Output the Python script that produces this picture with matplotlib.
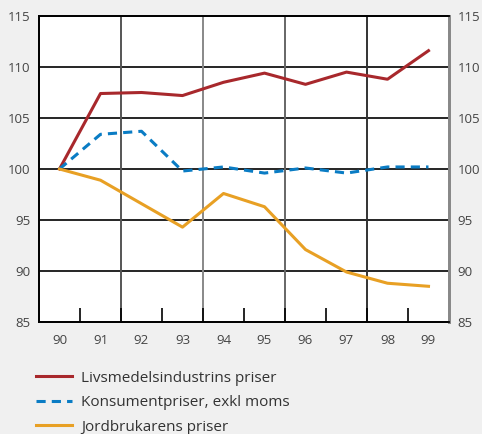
import matplotlib.pyplot as plt
import numpy as np

years = [90, 91, 92, 93, 94, 95, 96, 97, 98, 99]
year_labels = ['90', '91', '92', '93', '94', '95', '96', '97', '98', '99']
livsmedel = [100, 107.4, 107.5, 107.2, 108.5, 109.4, 108.3, 109.5, 108.8, 111.6]
konsument = [100, 103.4, 103.7, 99.8, 100.2, 99.6, 100.1, 99.6, 100.2, 100.2]
jordbruk = [100, 98.9, 96.6, 94.3, 97.6, 96.3, 92.1, 89.9, 88.8, 88.5]

plt.rcParams['font.family'] = ['Open Sans', 'DejaVu Sans']

fig = plt.figure(figsize=(4.82, 4.34), dpi=100, facecolor='#f0f0f0')
ax = fig.add_axes([39 / 482, 1 - 322 / 434, 410 / 482, 306 / 434])
ax.set_facecolor('white')

ax.set_xlim(89.5, 99.5)
ax.set_ylim(85, 115)

# grid
for y in [90, 95, 100, 105, 110]:
    ax.axhline(y, color='black', lw=1.2, zorder=1)
for x, c in zip([91.5, 93.5, 95.5, 97.5], ['#555555', '#888888', '#666666', '#333333']):
    ax.axvline(x, color=c, lw=1.4, zorder=1)

l1, = ax.plot(years, livsmedel, color='#a8282c', lw=2.2, zorder=3)
l2, = ax.plot(years, konsument, color='#0a7cc4', lw=2.2, ls=(0, (3, 2)), zorder=3)
l3, = ax.plot(years, jordbruk, color='#e8a024', lw=2.2, zorder=3)

ax.set_xticks(years)
ax.set_xticklabels(year_labels)
ax.set_xticks(np.arange(90.5, 99.5, 1), minor=True)
ax.tick_params(axis='x', which='major', length=0, pad=9, labelsize=9.5, labelcolor='#444444')
ax.tick_params(axis='x', which='minor', direction='in', length=10, width=1.2, color='black')
ax.set_yticks([85, 90, 95, 100, 105, 110, 115])
ax.tick_params(axis='y', length=0, pad=6, labelsize=9.5, labelcolor='#444444')

ax2 = ax.twinx()
ax2.set_ylim(85, 115)
ax2.set_yticks([85, 90, 95, 100, 105, 110, 115])
ax2.tick_params(axis='y', length=0, pad=6, labelsize=9.5, labelcolor='#444444')

for a in [ax, ax2]:
    a.spines['left'].set_color('black')
    a.spines['left'].set_linewidth(1.3)
    a.spines['top'].set_linewidth(1.3)
    a.spines['bottom'].set_linewidth(1.3)
    a.spines['right'].set_color('#888888')
    a.spines['right'].set_linewidth(2)

fig.legend([l1, l2, l3],
           ['Livsmedelsindustrins priser', 'Konsumentpriser, exkl moms', 'Jordbrukarens priser'],
           loc='upper left', bbox_to_anchor=(22 / 482, 1 - 357 / 434),
           frameon=False, fontsize=11, handlelength=2.4, handletextpad=0.55,
           labelspacing=0.62, labelcolor='#333333')

fig.savefig('out.png', dpi=100, facecolor=fig.get_facecolor())
